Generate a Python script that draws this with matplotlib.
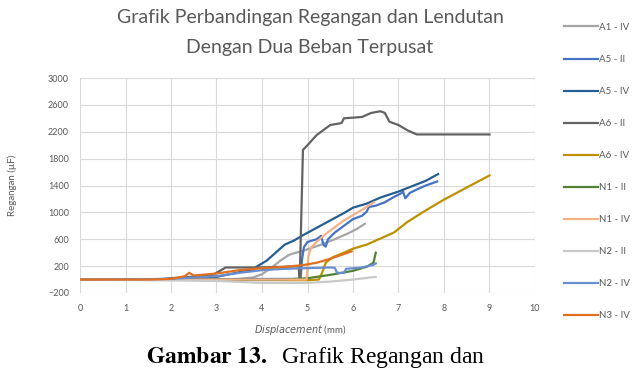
import numpy as np
import matplotlib.pyplot as plt
from matplotlib.lines import Line2D

# Data (displacement in mm, strain)
a1_iv_x = [0, 3.0, 3.5, 3.8, 4.0, 4.2, 4.4, 4.6, 4.8, 5.0, 5.3, 5.6, 5.9, 6.1, 6.26]
a1_iv_y = [0, 0, 10, 30, 80, 170, 280, 370, 410, 450, 520, 600, 690, 760, 830]

a5_ii_x = [0, 2.0, 4.8, 4.85, 4.88, 4.92, 5.0, 5.2, 5.3, 5.35, 5.4, 5.45, 5.6, 5.8, 6.0,
           6.2, 6.3, 6.35, 6.5, 6.7, 6.9, 7.05, 7.1, 7.15, 7.25, 7.4, 7.6, 7.85]
a5_ii_y = [0, 5, 10, 20, 300, 480, 560, 600, 650, 520, 490, 600, 700, 800, 900,
           950, 1010, 1080, 1100, 1150, 1230, 1280, 1310, 1210, 1290, 1340, 1400, 1460]

a5_iv_x = [0, 1.0, 2.0, 3.0, 3.8, 3.9, 4.1, 4.3, 4.5, 4.7, 4.9, 5.2, 5.5, 5.8, 6.0,
           6.3, 6.6, 7.0, 7.3, 7.6, 7.87]
a5_iv_y = [0, 0, 10, 40, 150, 200, 280, 400, 520, 580, 660, 770, 880, 990, 1070,
           1130, 1220, 1310, 1390, 1470, 1570]

a6_ii_x = [0, 1.7, 2.0, 2.9, 3.2, 3.9, 4.5, 4.8, 4.83, 4.9, 5.0, 5.2, 5.5, 5.75, 5.8,
           6.2, 6.4, 6.6, 6.7, 6.8, 7.0, 7.2, 7.4, 7.6, 9.0]
a6_ii_y = [0, 0, 20, 60, 180, 180, 190, 200, 20, 1930, 2000, 2150, 2300, 2330, 2400,
           2420, 2480, 2505, 2480, 2350, 2300, 2220, 2160, 2160, 2160]

a6_iv_x = [0, 5.0, 5.25, 5.32, 5.4, 5.55, 5.8, 6.0, 6.3, 6.6, 6.9, 7.2, 7.6, 8.0, 8.5, 9.0]
a6_iv_y = [0, -10, 0, 100, 250, 330, 400, 460, 520, 610, 700, 860, 1030, 1190, 1370, 1550]

n1_ii_x = [0, 4.0, 4.5, 5.0, 5.5, 6.0, 6.3, 6.45, 6.5]
n1_ii_y = [0, -5, 0, 20, 70, 130, 190, 250, 400]

n1_iv_x = [0, 4.98, 5.02, 5.08, 5.2, 5.4, 5.6, 5.8, 6.0, 6.2, 6.46]
n1_iv_y = [0, 0, 350, 480, 560, 680, 780, 880, 960, 1040, 1150]

n2_ii_x = [0, 3.0, 4.0, 5.0, 5.5, 6.0, 6.5]
n2_ii_y = [0, -20, -50, -50, -30, 0, 40]

n2_iv_x = [0, 2.0, 3.0, 3.5, 4.0, 4.5, 5.0, 5.5, 5.6, 5.65, 5.8, 5.85, 6.2, 6.45, 6.5]
n2_iv_y = [0, 10, 50, 100, 140, 160, 170, 180, 175, 100, 100, 160, 180, 220, 240]

n3_iv_x = [0, 1.5, 2.0, 2.3, 2.4, 2.5, 3.0, 3.5, 4.0, 4.5, 4.9, 5.2, 5.5, 5.8, 5.97]
n3_iv_y = [0, 0, 10, 50, 100, 60, 90, 140, 170, 190, 215, 250, 310, 380, 420]

series = [
    ("A1 - IV", a1_iv_x, a1_iv_y, "#A5A5A5"),
    ("A5 - II", a5_ii_x, a5_ii_y, "#4472C4"),
    ("A5 - IV", a5_iv_x, a5_iv_y, "#255E91"),
    ("A6 - II", a6_ii_x, a6_ii_y, "#636363"),
    ("A6 - IV", a6_iv_x, a6_iv_y, "#BF9000"),
    ("N1 - II", n1_ii_x, n1_ii_y, "#548235"),
    ("N1 - IV", n1_iv_x, n1_iv_y, "#F4B183"),
    ("N2 - II", n2_ii_x, n2_ii_y, "#C9C9C9"),
    ("N2 - IV", n2_iv_x, n2_iv_y, "#698ED0"),
    ("N3 - IV", n3_iv_x, n3_iv_y, "#E0701F"),
]

plt.rcParams['font.family'] = ['Lato', 'DejaVu Sans']
txt = "#595959"

fig = plt.figure(figsize=(6.33, 3.71), dpi=100)
ax = fig.add_axes([80/633, 1-293/371, 455/633, 215/371])

handles = []
for name, xs, ys, col in series:
    ax.plot(xs, ys, color=col, lw=1.6)
    handles.append(Line2D([], [], color=col, lw=1.6))

ax.set_xlim(0, 10)
ax.set_ylim(-200, 3000)
ax.set_xticks(np.arange(0, 11, 1))
ax.set_yticks(np.arange(-200, 3001, 400))
ax.grid(True, color="#D9D9D9", lw=0.8)
ax.set_axisbelow(True)
for s in ax.spines.values():
    s.set_visible(False)
ax.tick_params(length=0, labelsize=6.5, colors=txt, pad=8)

fig.text(300/633, 1-330/371, r"$\it{Displacement}$ (mm)", ha="center", va="center",
         fontsize=7, color=txt)
ax.set_ylabel("Regangan (µF)", fontsize=7, color=txt)
ax.yaxis.set_label_coords((17 - 80) / 455, 0.5)

fig.text(310/633, 1-18/371, "Grafik Perbandingan Regangan dan Lendutan",
         ha="center", va="center", fontsize=14, color=txt)
fig.text(310/633, 1-47/371, "Dengan Dua Beban Terpusat",
         ha="center", va="center", fontsize=14, color=txt)

fig.legend(handles, [s[0] for s in series], loc="upper left",
           bbox_to_anchor=(560/633, 1-19/371), frameon=False, fontsize=7,
           handlelength=3.5, handletextpad=0.1, labelspacing=2.37,
           labelcolor=txt, borderaxespad=0)

fig.text(146/633, 1-363/371, r"$\mathbf{Gambar\ 13.}$  Grafik Regangan dan",
         ha="left", va="baseline", fontsize=17, color="black",
         family="Liberation Serif", math_fontfamily="stix")

fig.savefig("out.png", dpi=100)
